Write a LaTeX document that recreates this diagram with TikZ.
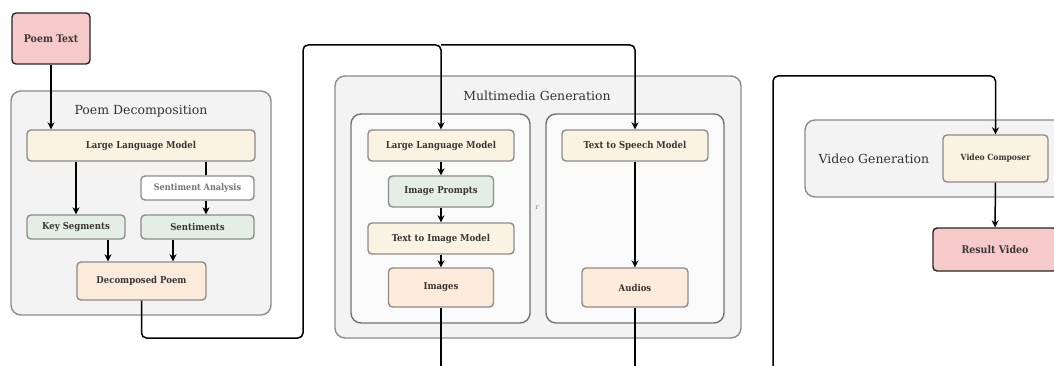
\documentclass[tikz,border=0pt]{standalone}
\usepackage{fontspec}
\setmainfont{DejaVu Serif}
\newfontfamily\nodefont{DejaVu Serif Condensed}
\usetikzlibrary{arrows.meta,calc}
\definecolor{txt}{HTML}{3A3535}
\definecolor{pinkf}{HTML}{F6CACA}
\definecolor{ivory}{HTML}{FBF3E1}
\definecolor{greenf}{HTML}{E3EEE5}
\definecolor{peach}{HTML}{FCEADB}
\definecolor{contf}{HTML}{F3F3F3}
\definecolor{innerf}{HTML}{FAFAFA}
\definecolor{bord}{HTML}{8C8C8C}
\tikzset{
  base/.style={rounded corners=4pt, line width=1.4pt, draw=bord, text=txt, inner sep=0pt, align=center},
  endbox/.style={base, fill=pinkf, draw=black!85, font=\nodefont\fontsize{10.5}{12}\selectfont\bfseries},
  llmbox/.style={base, fill=ivory, font=\nodefont\fontsize{9.5}{11}\selectfont\bfseries},
  greenbox/.style={base, fill=greenf, font=\nodefont\fontsize{9.5}{11}\selectfont\bfseries},
  peachbox/.style={base, fill=peach, font=\nodefont\fontsize{9.5}{11}\selectfont\bfseries},
  whitebox/.style={base, fill=white, text=black!55, font=\nodefont\fontsize{9}{10}\selectfont\bfseries},
  container/.style={rounded corners=10pt, line width=1.4pt, draw=bord, fill=contf},
  innerbox/.style={rounded corners=10pt, line width=1.4pt, draw=black!55, fill=innerf},
  title/.style={text=black!80, font=\fontsize{12.5}{14}\selectfont},
  conn/.style={line width=1.5pt, draw=black, rounded corners=5pt},
  arr/.style={conn, -{Stealth[length=7pt,width=7pt]}},
}
\begin{document}
\begin{tikzpicture}[x=1pt,y=-1pt]
\useasboundingbox (0,0) rectangle (1054,366);
\clip (0,0) rectangle (1054,366);
\fill[white] (0,0) rectangle (1054,366);

% ---------- Poem Decomposition ----------
\draw[container] (11,91) rectangle (271,315);
\node[title] (t1) at (141,111) {Poem Decomposition};
\node[endbox, minimum width=78, minimum height=51] (poem) at (51,38.5) {Poem Text};
\node[llmbox, minimum width=228, minimum height=31] (llm1) at (141,145.5) {Large Language Model};
\node[whitebox, minimum width=113, minimum height=24] (sa) at (197.5,188) {Sentiment Analysis};
\node[greenbox, minimum width=98, minimum height=24] (ks) at (76,227) {Key Segments};
\node[greenbox, minimum width=113, minimum height=24] (sent) at (197.5,227) {Sentiments};
\node[peachbox, minimum width=129, minimum height=38] (dp) at (141.5,281) {Decomposed Poem};

\coordinate (xa) at (206,0);
\coordinate (xk) at (108,0);
\coordinate (xs) at (173,0);
\draw[arr] (poem.south) -- (llm1.north -| poem.south);
\draw[arr] (llm1.south -| ks.north) -- (ks.north);
\draw[conn] (llm1.south -| xa) -- (sa.north -| xa);
\draw[arr] (sa.south -| xa) -- (sent.north -| xa);
\draw[arr] (ks.south -| xk) -- (dp.north -| xk);
\draw[arr] (sent.south -| xs) -- (dp.north -| xs);

% ---------- Multimedia Generation ----------
\draw[container] (335,76) rectangle (741,338);
\node[title] (t2) at (537,96) {Multimedia Generation};
\draw[innerbox] (351,114) rectangle (530,323);
\draw[innerbox] (546,114) rectangle (724,323);
\node[llmbox, minimum width=146, minimum height=31] (llm2) at (441,145.5) {Large Language Model};
\node[greenbox, minimum width=105, minimum height=31] (ip) at (441,191.5) {Image Prompts};
\node[llmbox, minimum width=146, minimum height=31] (t2i) at (441,238.5) {Text to Image Model};
\node[peachbox, minimum width=105, minimum height=39] (img) at (441,287.5) {Images};
\node[llmbox, minimum width=146, minimum height=31] (tts) at (635,145.5) {Text to Speech Model};
\node[peachbox, minimum width=106, minimum height=39] (aud) at (635,287.5) {Audios};
\node[text=black!50, font=\fontsize{7}{8}\selectfont, inner sep=0pt] (r) at (537,208) {r};

\draw[arr] (llm2) -- (ip);
\draw[arr] (ip) -- (t2i);
\draw[arr] (t2i) -- (img);
\draw[arr] (tts) -- (aud);

% long connector from Decomposed Poem
\coordinate (c1) at (141.5,338);
\coordinate (c2) at (303,338);
\coordinate (c3) at (303,45);
\coordinate (c4) at (441,45);
\coordinate (c5) at (635,45);
\draw[arr] (dp.south) -- (c1) -- (c2) -- (c3) -- (c4) -- (llm2.north);
\draw[arr] (c4) -- (c5) -- (tts.north);

% outputs going down
\coordinate (o1) at (441,370);
\coordinate (o2) at (635,370);
\draw[conn] (img.south) -- (o1);
\draw[conn] (aud.south) -- (o2);

% ---------- Video Generation ----------
\draw[container] (805,120) rectangle (1075,197);
\node[title, anchor=west] (t3) at (815,159) {Video Generation};
\node[llmbox, font=\nodefont\fontsize{8.5}{10}\selectfont\bfseries, minimum width=105, minimum height=47] (vc) at (995.5,158.5) {Video Composer};
\node[endbox, minimum width=124, minimum height=43] (rv) at (995,249.5) {Result Video};

\coordinate (v0) at (773,370);
\coordinate (v1) at (773,76);
\coordinate (v2) at (995.5,76);
\draw[arr] (v0) -- (v1) -- (v2) -- (vc.north);
\draw[arr] (vc) -- (rv);
\end{tikzpicture}
\end{document}
